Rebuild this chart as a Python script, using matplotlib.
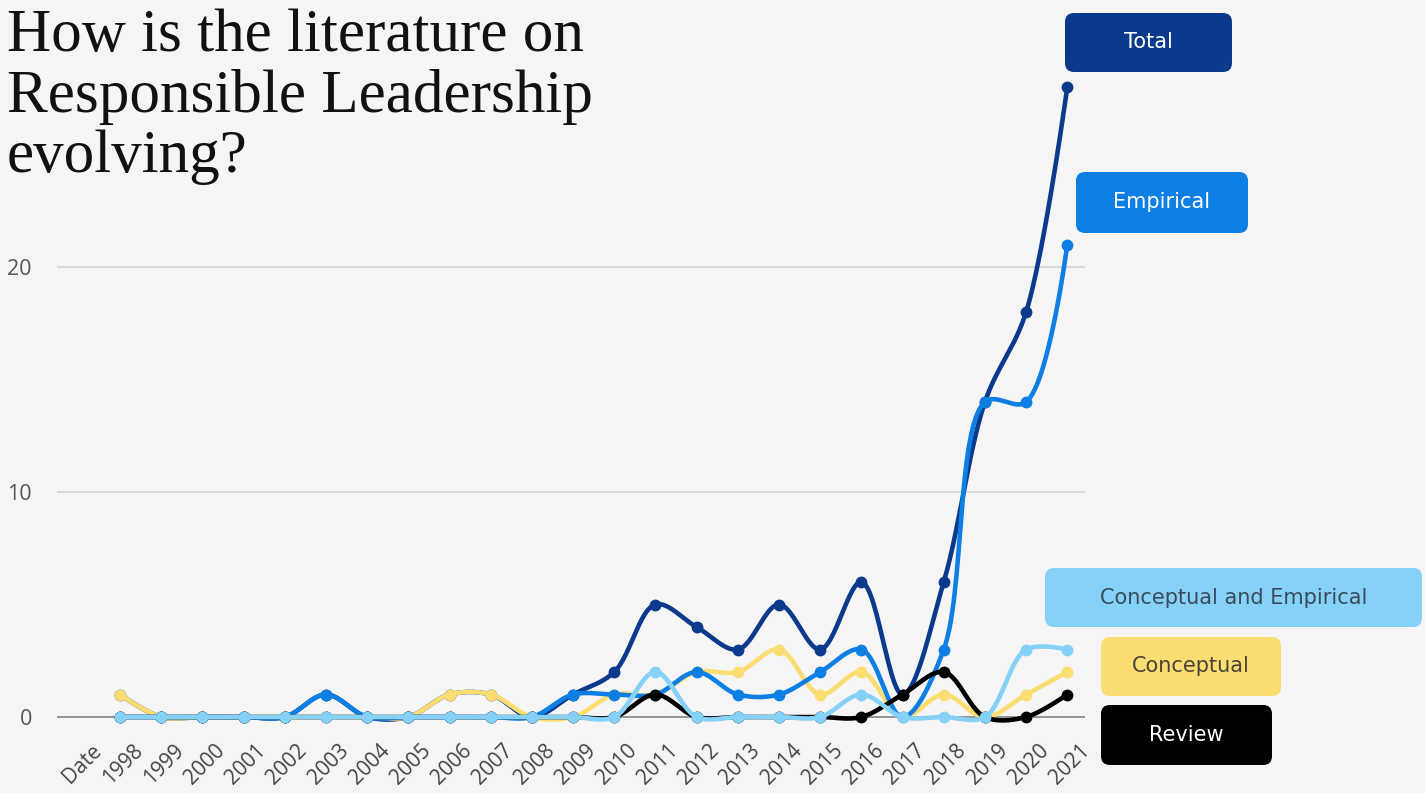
import numpy as np
import matplotlib.pyplot as plt
from matplotlib.patches import FancyBboxPatch
from matplotlib.transforms import ScaledTranslation

# publications per year and type
categories = ['Date'] + [str(y) for y in range(1998, 2022)]
years_idx = list(range(1, 25))

total      = [1, 0, 0, 0, 0, 1, 0, 0, 1, 1, 0, 1, 2, 5, 4, 3, 5, 3, 6, 1, 6, 14, 18, 28]
empirical  = [0, 0, 0, 0, 0, 1, 0, 0, 0, 0, 0, 1, 1, 1, 2, 1, 1, 2, 3, 0, 3, 14, 14, 21]
conceptual = [1, 0, 0, 0, 0, 0, 0, 0, 1, 1, 0, 0, 1, 1, 2, 2, 3, 1, 2, 0, 1, 0, 1, 2]
review     = [0, 0, 0, 0, 0, 0, 0, 0, 0, 0, 0, 0, 0, 1, 0, 0, 0, 0, 0, 1, 2, 0, 0, 1]
conc_emp   = [0, 0, 0, 0, 0, 0, 0, 0, 0, 0, 0, 0, 0, 2, 0, 0, 0, 0, 1, 0, 0, 0, 3, 3]

yticks = [0, 10, 20]

bg = '#f5f5f5'
c_total = '#0b3a8c'
c_emp = '#0d7fe4'
c_conc = '#fbdd72'
c_rev = '#000000'
c_ce = '#86d1f7'

W, H = 1425, 793
left, right, bottom, top = 57, 1085, 740, 60
xlim = (-0.53, 24.43)
px_per_unit = 22.5
zero_px = 717
sx_px = (right - left) / (xlim[1] - xlim[0])


def catmull_rom(xs, ys, alpha=0.5, n=30):
    # centripetal Catmull-Rom, worked out in screen pixels so the curve
    # bends the same way it would on screen
    P = np.column_stack([np.asarray(xs, float) * sx_px, np.asarray(ys, float) * px_per_unit])
    npts = len(P)
    t = np.linspace(0, 1, n)[:, None]
    out = [P[:1]]
    for i in range(npts - 1):
        p0 = P[i - 1] if i > 0 else None
        p1, p2 = P[i], P[i + 1]
        p3 = P[i + 2] if i + 2 < npts else None
        l12_2a = np.sum((p2 - p1) ** 2) ** alpha
        l12_a = np.sqrt(l12_2a)
        c1, c2 = p1.copy(), p2.copy()
        if p0 is not None:
            l01_2a = np.sum((p1 - p0) ** 2) ** alpha
            l01_a = np.sqrt(l01_2a)
            if l01_a > 1e-12:
                a = 2 * l01_2a + 3 * l01_a * l12_a + l12_2a
                m = 3 * l01_a * (l01_a + l12_a)
                c1 = (p1 * a - p0 * l12_2a + p2 * l01_2a) / m
        if p3 is not None:
            l23_2a = np.sum((p3 - p2) ** 2) ** alpha
            l23_a = np.sqrt(l23_2a)
            if l23_a > 1e-12:
                b = 2 * l23_2a + 3 * l23_a * l12_a + l12_2a
                m = 3 * l23_a * (l23_a + l12_a)
                c2 = (p2 * b + p1 * l23_2a - p3 * l12_2a) / m
        seg = ((1 - t) ** 3) * p1 + 3 * ((1 - t) ** 2) * t * c1 + 3 * (1 - t) * t ** 2 * c2 + t ** 3 * p2
        out.append(seg[1:])
    out = np.vstack(out)
    return out[:, 0] / sx_px, out[:, 1] / px_per_unit


fig = plt.figure(figsize=(W / 100, H / 100), dpi=100, facecolor=bg)

# main axes, placed in pixels
ax = fig.add_axes([left / W, (H - bottom) / H, (right - left) / W, (bottom - top) / H])
ax.set_facecolor(bg)
for s in ax.spines.values():
    s.set_visible(False)

ax.set_ylim((zero_px - bottom) / px_per_unit, (zero_px - top) / px_per_unit)
ax.set_xlim(*xlim)

for v in yticks:
    ax.axhline(v, color='#8c8c8c' if v == 0 else '#d6d6d6', lw=1.3, zorder=1)

series = [
    (total, c_total),
    (conceptual, c_conc),
    (empirical, c_emp),
    (review, c_rev),
    (conc_emp, c_ce),
]
for i, (vals, col) in enumerate(series):
    sx, sy = catmull_rom(years_idx, vals)
    ax.plot(sx, sy, color=col, lw=3.3, solid_capstyle='round', solid_joinstyle='round', zorder=3 + i)
    ax.plot(years_idx, vals, 'o', color=col, ms=7.5, zorder=3 + i)

ax.set_yticks(yticks)
ax.set_yticklabels([str(v) for v in yticks], fontsize=15.5, color='#555555', family='Open Sans')
ax.tick_params(axis='y', length=0, pad=18)

ax.set_xticks(range(len(categories)))
ax.set_xticklabels(categories, rotation=45, ha='right', va='top', rotation_mode='anchor',
                   fontsize=15, color='#444444', family='Open Sans')
ax.tick_params(axis='x', length=0, pad=0)
offset = ScaledTranslation(12 / 100, 0, fig.dpi_scale_trans)
for lab in ax.get_xticklabels():
    lab.set_transform(lab.get_transform() + offset)

# overlay in pixel coordinates for title and series labels
ov = fig.add_axes([0, 0, 1, 1])
ov.set_xlim(0, W)
ov.set_ylim(H, 0)
ov.axis('off')

ov.text(7, 9, 'How is the literature on\nResponsible Leadership\nevolving?', ha='left', va='top',
        fontsize=44, family='Liberation Serif', color='#111111', linespacing=1.11)

boxes = [
    ('Total', 1065, 13, 1232, 72, c_total, 'white'),
    ('Empirical', 1076, 172, 1248, 233, c_emp, 'white'),
    ('Conceptual and Empirical', 1045, 568, 1422, 627, c_ce, '#3b4a5a'),
    ('Conceptual', 1101, 637, 1281, 696, c_conc, '#4a4535'),
    ('Review', 1101, 705, 1272, 765, c_rev, 'white'),
]
for label, x0, y0, x1, y1, fc, tc in boxes:
    ov.add_patch(FancyBboxPatch((x0, y0), x1 - x0, y1 - y0,
                                boxstyle='round,pad=0,rounding_size=9',
                                fc=fc, ec='none', zorder=10))
    ov.text((x0 + x1) / 2, (y0 + y1) / 2, label, ha='center', va='center',
            fontsize=15, family='DejaVu Sans', color=tc, zorder=11)

fig.savefig('out.png', dpi=100, facecolor=bg)
